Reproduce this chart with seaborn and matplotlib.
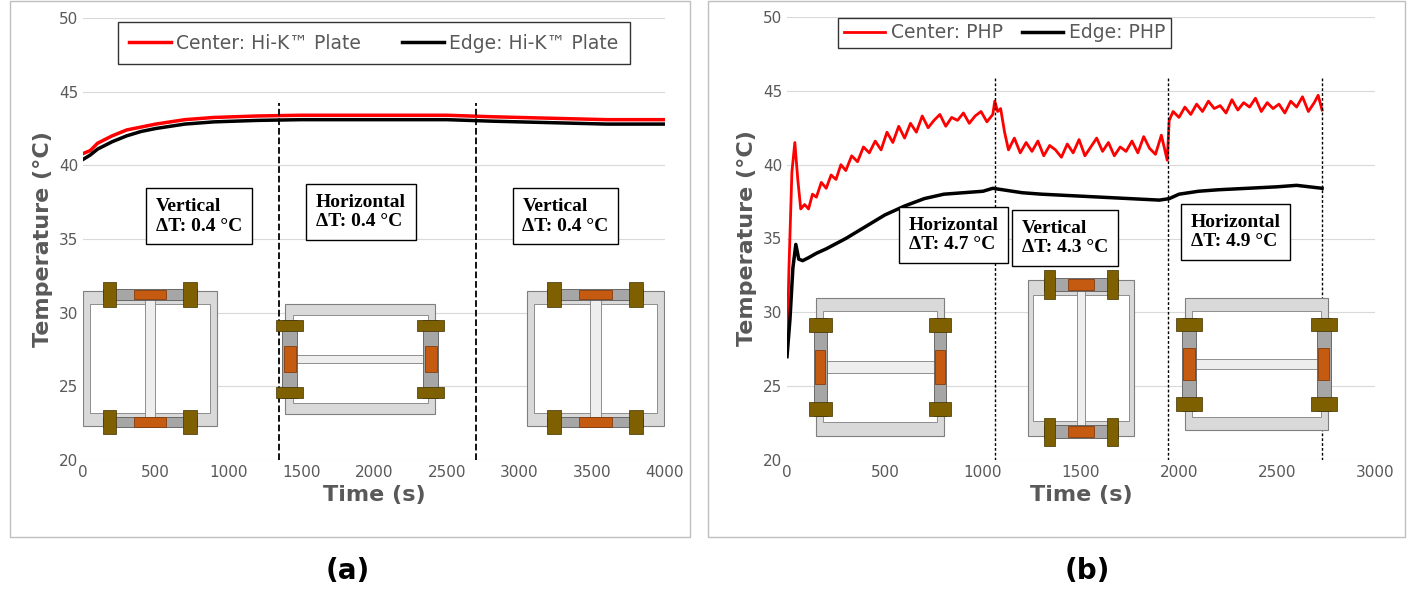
import numpy as np
import pandas as pd
import matplotlib.pyplot as plt
import seaborn as sns
from matplotlib.patches import Rectangle

# ---- data ----
t_a = [0, 50, 100, 200, 300, 400, 500, 700, 900, 1200, 1500, 2000, 2500, 2800, 3200, 3600, 4000]
center_a = [40.8, 41.0, 41.5, 42.0, 42.4, 42.6, 42.8, 43.1, 43.25, 43.35, 43.4, 43.4, 43.4, 43.3, 43.2, 43.1, 43.1]
edge_a = [40.4, 40.7, 41.1, 41.6, 42.0, 42.3, 42.5, 42.8, 42.95, 43.05, 43.1, 43.1, 43.1, 43.0, 42.9, 42.8, 42.8]

t_b = [0, 10, 25, 40, 55, 70, 90, 110, 130, 150, 175, 200, 225, 250, 275, 300, 330, 360, 390, 420,
       450, 480, 510, 540, 570, 600, 630, 660, 690, 720, 750, 780, 810, 840, 870, 900, 930, 960, 990,
       1020, 1050, 1060, 1075, 1090, 1110, 1130, 1160, 1190, 1220, 1250, 1280, 1310, 1340, 1370, 1400,
       1430, 1460, 1490, 1520, 1550, 1580, 1610, 1640, 1670, 1700, 1730, 1760, 1790, 1820, 1850, 1880,
       1910, 1940, 1950, 1970, 2000, 2030, 2060, 2090, 2120, 2150, 2180, 2210, 2240, 2270, 2300, 2330,
       2360, 2390, 2420, 2450, 2480, 2510, 2540, 2570, 2600, 2630, 2660, 2690, 2710, 2730]
center_b = [27.5, 33.0, 39.5, 41.5, 39.0, 37.0, 37.3, 37.0, 38.0, 37.8, 38.8, 38.4, 39.3, 39.0, 40.0, 39.6, 40.6, 40.2, 41.2, 40.8,
            41.6, 41.0, 42.2, 41.5, 42.6, 41.8, 42.8, 42.2, 43.3, 42.5, 43.0, 43.4, 42.6, 43.2, 43.0, 43.5, 42.8, 43.3, 43.6,
            42.9, 43.4, 44.3, 43.6, 43.8, 42.2, 41.0, 41.8, 40.8, 41.5, 40.9, 41.6, 40.6, 41.3, 41.0, 40.5,
            41.4, 40.8, 41.7, 40.6, 41.2, 41.8, 40.9, 41.5, 40.6, 41.2, 40.9, 41.6, 40.8, 41.9, 41.1, 40.7,
            42.0, 40.3, 43.0, 43.6, 43.2, 43.9, 43.4, 44.1, 43.6, 44.3, 43.8, 44.0, 43.5, 44.4, 43.7, 44.2,
            43.9, 44.5, 43.6, 44.2, 43.8, 44.1, 43.5, 44.3, 43.9, 44.6, 43.6, 44.2, 44.7, 43.7]
t_be = [0, 15, 30, 45, 60, 80, 110, 150, 200, 300, 400, 500, 600, 700, 800, 900, 1000, 1050, 1100, 1200,
        1300, 1450, 1600, 1750, 1900, 1950, 2000, 2100, 2200, 2350, 2500, 2600, 2730]
edge_b = [27.0, 29.5, 33.0, 34.6, 33.6, 33.5, 33.7, 34.0, 34.3, 35.0, 35.8, 36.6, 37.2, 37.7, 38.0, 38.1, 38.2, 38.4, 38.3, 38.1,
          38.0, 37.9, 37.8, 37.7, 37.6, 37.7, 38.0, 38.2, 38.3, 38.4, 38.5, 38.6, 38.4]

grey = '#595959'
fig = plt.figure(figsize=(14.14, 6.03), dpi=100)
for x0, w in [(10, 680), (708, 697)]:
    fig.patches.append(Rectangle((x0 / 1414, 1 - 537 / 603), w / 1414, 536 / 603,
                                 transform=fig.transFigure, fill=False, ec='#bfbfbf', lw=1))

ax1 = fig.add_axes([83 / 1414, 1 - 460 / 603, 582 / 1414, 442 / 603])
ax2 = fig.add_axes([787 / 1414, 1 - 460 / 603, 588 / 1414, 443 / 603])


def schematic(ax, x0, x1, y0, y1, vertical):
    # simplified drawing of the plate with heater blocks
    w, h = x1 - x0, y1 - y0
    cx, cy = (x0 + x1) / 2, (y0 + y1) / 2
    ax.add_patch(Rectangle((x0, y0), w, h, fc='#d9d9d9', ec='#7f7f7f', lw=0.8, zorder=3))
    ax.add_patch(Rectangle((x0 + w * 0.05, y0 + h * 0.1), w * 0.9, h * 0.8,
                           fc='white', ec='#7f7f7f', lw=0.6, zorder=3))
    if vertical:
        ax.add_patch(Rectangle((cx - w * 0.04, y0), w * 0.08, h, fc='#eeeeee', ec='#7f7f7f', lw=0.6, zorder=4))
        for yy in (y1 - h * 0.03, y0 + h * 0.03):
            ax.add_patch(Rectangle((cx - w * 0.35, yy - h * 0.04), w * 0.7, h * 0.08, fc='#a6a6a6', ec='#595959', lw=0.6, zorder=5))
            ax.add_patch(Rectangle((cx - w * 0.12, yy - h * 0.035), w * 0.24, h * 0.07, fc='#c55a11', ec='#843c0c', lw=0.6, zorder=6))
            for xx in (cx - w * 0.3, cx + w * 0.3):
                ax.add_patch(Rectangle((xx - w * 0.05, yy - h * 0.09), w * 0.1, h * 0.18, fc='#7f6000', ec='#3f3000', lw=0.5, zorder=6))
    else:
        ax.add_patch(Rectangle((x0, cy - h * 0.04), w, h * 0.08, fc='#eeeeee', ec='#7f7f7f', lw=0.6, zorder=4))
        for xx in (x0 + w * 0.03, x1 - w * 0.03):
            ax.add_patch(Rectangle((xx - w * 0.05, cy - h * 0.35), w * 0.1, h * 0.7, fc='#a6a6a6', ec='#595959', lw=0.6, zorder=5))
            ax.add_patch(Rectangle((xx - w * 0.04, cy - h * 0.12), w * 0.08, h * 0.24, fc='#c55a11', ec='#843c0c', lw=0.6, zorder=6))
            for yy in (cy - h * 0.3, cy + h * 0.3):
                ax.add_patch(Rectangle((xx - w * 0.09, yy - h * 0.05), w * 0.18, h * 0.1, fc='#7f6000', ec='#3f3000', lw=0.5, zorder=6))


def style(ax, xmax, xstep):
    ax.set_ylim(20, 50)
    ax.set_xlim(0, xmax)
    ax.set_yticks(range(20, 51, 5))
    ax.set_xticks(range(0, xmax + 1, xstep))
    ax.grid(axis='y', color='#d9d9d9', lw=0.8)
    ax.set_axisbelow(True)
    for s in ax.spines.values():
        s.set_visible(False)
    ax.tick_params(length=0, labelsize=11, colors=grey)
    ax.set_xlabel('Time (s)', fontsize=16, fontweight='bold', color=grey)
    ax.set_ylabel('Temperature (°C)', fontsize=16, fontweight='bold', color=grey)


box = dict(boxstyle='square,pad=0.5', fc='white', ec='black', lw=1)
tfont = dict(family='Liberation Serif', fontweight='bold', fontsize=14, zorder=7)

# ---- panel (a) ----
sns.lineplot(x=t_a, y=center_a, ax=ax1, color='red', lw=2.5, label='Center: Hi-K™ Plate')
sns.lineplot(x=t_a, y=edge_a, ax=ax1, color='black', lw=2.5, label='Edge: Hi-K™ Plate')
style(ax1, 4000, 500)
for xv in (1350, 2700):
    ax1.plot([xv, xv], [20, 44.2], 'k--', lw=1.3)
leg = ax1.legend(loc='upper center', ncol=2, fontsize=13.5, frameon=True, fancybox=False, edgecolor='black',
                 bbox_to_anchor=(0.5, 0.99), borderpad=0.6, columnspacing=2.2,
                 handlelength=2.2, handletextpad=0.3, borderaxespad=0)
leg.get_frame().set_linewidth(1)
for leg_t in leg.get_texts():
    leg_t.set_color(grey)
ax1.text(500, 35.3, 'Vertical\nΔT: 0.4 °C', bbox=box, va='bottom', **tfont)
ax1.text(1600, 35.6, 'Horizontal\nΔT: 0.4 °C', bbox=box, va='bottom', **tfont)
ax1.text(3020, 35.3, 'Vertical\nΔT: 0.4 °C', bbox=box, va='bottom', **tfont)
schematic(ax1, 0, 920, 22.3, 31.5, True)
schematic(ax1, 1390, 2420, 23.1, 30.6, False)
schematic(ax1, 3050, 3990, 22.3, 31.5, True)

# ---- panel (b) ----
sns.lineplot(x=t_b, y=center_b, ax=ax2, color='red', lw=2, label='Center: PHP')
sns.lineplot(x=t_be, y=edge_b, ax=ax2, color='black', lw=2.5, label='Edge: PHP')
style(ax2, 3000, 500)
for xv in (1060, 1945, 2730):
    ax2.plot([xv, xv], [20, 46], color='black', ls=(0, (2, 1.5)), lw=1)
leg = ax2.legend(loc='upper center', ncol=2, fontsize=13.5, frameon=True, fancybox=False, edgecolor='black',
                 bbox_to_anchor=(0.37, 1.02), borderpad=0.3, columnspacing=1.0, handlelength=2.2, handletextpad=0.3)
for leg_t in leg.get_texts():
    leg_t.set_color(grey)
ax2.text(620, 34.0, 'Horizontal\nΔT: 4.7 °C', bbox=box, va='bottom', **tfont)
ax2.text(1200, 33.8, 'Vertical\nΔT: 4.3 °C', bbox=box, va='bottom', **tfont)
ax2.text(2060, 34.2, 'Horizontal\nΔT: 4.9 °C', bbox=box, va='bottom', **tfont)
schematic(ax2, 150, 800, 21.6, 31.0, False)
schematic(ax2, 1230, 1770, 21.6, 32.2, True)
schematic(ax2, 2030, 2760, 22.0, 31.0, False)

fig.text(348 / 1414, 1 - 571 / 603, '(a)', fontsize=20, fontweight='bold', ha='center', va='center')
fig.text(1087 / 1414, 1 - 571 / 603, '(b)', fontsize=20, fontweight='bold', ha='center', va='center')

fig.savefig('out.png', dpi=100)
